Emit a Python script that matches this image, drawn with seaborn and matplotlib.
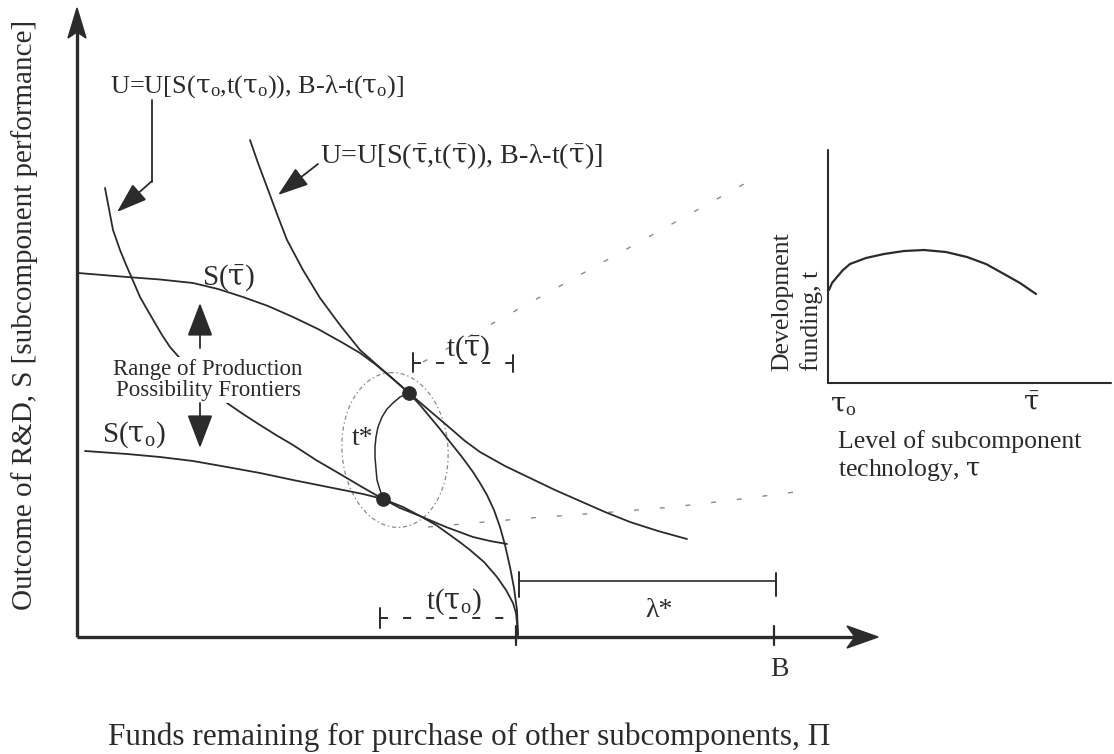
import numpy as np
import pandas as pd
import seaborn as sns
import matplotlib.pyplot as plt
from matplotlib.patches import Ellipse, FancyArrowPatch, Polygon

# ---------------------------------------------------------------
# Curves of the diagram, in canvas units (x to the right, y downward)
# ---------------------------------------------------------------
# production possibility frontier with the advanced technology, S(tau-bar)
s_bar_x = [78, 127, 160, 193, 218, 243, 268, 293, 318, 343, 360, 375, 392, 409, 420,
           430, 440, 450, 462, 473, 480, 487, 494, 500, 505, 510, 514, 517, 518]
s_bar_y = [273, 277, 279.5, 283, 289, 297, 306, 317, 329, 343, 353, 364, 378, 393, 405,
           417, 429, 442, 457, 472, 483, 495, 510, 527, 545, 567, 588, 610, 635]

# production possibility frontier with the base technology, S(tau_o)
s_o_x = [85, 127, 160, 193, 227, 260, 293, 318, 343, 363, 383, 403, 420, 436, 450,
         461, 470, 484, 497, 506, 513, 516, 517, 518]
s_o_y = [451, 454, 457, 461, 467, 473, 480, 485, 490, 494, 499, 507, 516, 525, 535,
         543, 550, 562, 577, 590, 603, 613, 623, 635]

# indifference curve tangent to S(tau-bar)
u_bar_x = [250, 258, 267, 277, 287, 303, 320, 340, 360, 377, 393, 409, 430, 450, 465,
           480, 505, 530, 555, 580, 605, 630, 658, 687]
u_bar_y = [140, 163, 187, 214, 240, 270, 298, 325, 350, 365, 379, 393, 411, 428, 441,
           452, 466, 478, 490, 501, 512, 522, 531, 539]

# indifference curve tangent to S(tau_o)
u_o_x = [105, 109, 113, 120, 127, 134, 140, 148, 155, 162, 170, 184, 198, 212, 227,
         243, 260, 276, 293, 316, 340, 362, 383, 400, 420, 446, 473, 490, 507]
u_o_y = [188, 209, 230, 250, 267, 283, 297, 311, 323, 335, 347, 363, 377, 391, 403,
         414, 425, 435, 445, 460, 474, 487, 499, 508, 516, 527, 537, 541, 544]

# locus of optimal development funding t*
t_star_x = [409, 400, 393, 387, 382, 378, 376, 375, 375, 376, 377, 380, 383]
t_star_y = [393, 397, 403, 409, 417, 427, 437, 447, 457, 469, 480, 490, 499]

# tangency points
opt_x = [409, 383]
opt_y = [393, 499]

# dashed guide lines towards the inset
guide_hi_x = [423, 753]
guide_hi_y = [362, 179]
guide_lo_x = [428, 530, 613, 673, 733, 795]
guide_lo_y = [527, 518, 512, 507, 500, 492]

# inset: development funding against technology level
inset_x = [829, 832, 837, 843, 850, 866, 884, 904, 924, 946, 967, 986, 1004, 1020, 1036]
inset_y = [290, 283, 277, 270, 264, 258, 254, 251, 250, 252, 257, 264, 274, 283, 294]

# axis geometry
origin = (77, 637)
x_axis_end = 878
y_axis_end = 8
budget_x = 774          # B
frontier_end_x = 516    # B - lambda*
inset_origin = (828, 383)
inset_top = 150
inset_right = 1111

TAU = r'\mathsf{τ}'
TAU0 = rf'${TAU}_\mathrm{{o}}$'
TAUB = rf'$\bar{{{TAU}}}$'

# ---------------------------------------------------------------
sns.set_theme(style='white')
plt.rcParams['font.family'] = ['Liberation Serif', 'DejaVu Serif']
plt.rcParams['mathtext.fontset'] = 'custom'
plt.rcParams['mathtext.rm'] = 'Liberation Serif'
plt.rcParams['mathtext.it'] = 'Liberation Serif:italic'
plt.rcParams['mathtext.bf'] = 'Liberation Serif:bold'
plt.rcParams['mathtext.sf'] = 'DejaVu Serif'
plt.rcParams['lines.scale_dashes'] = False

INK = '#2b2b2b'
GREY = '#8a8a8a'

fig = plt.figure(figsize=(11.14, 7.54), dpi=100)
ax = fig.add_axes([0, 0, 1, 1])
ax.set_xlim(0, 1114)
ax.set_ylim(754, 0)
ax.axis('off')


def curve(xs, ys, lw=1.3, color=INK, **kw):
    sns.lineplot(x=xs, y=ys, sort=False, estimator=None, ax=ax,
                 color=color, lw=lw, **kw)


def arrow(p0, p1, hl, hw, lw=1.3, z=5):
    a = FancyArrowPatch(p0, p1, arrowstyle=f'-|>,head_length={hl},head_width={hw}',
                        mutation_scale=1, color=INK, lw=lw, zorder=z,
                        shrinkA=0, shrinkB=0)
    ax.add_patch(a)


def label(x, y, s, size, **kw):
    kw.setdefault('va', 'baseline')
    kw.setdefault('ha', 'left')
    ax.text(x, y, s, fontsize=size, color=INK, **kw)


# main axes with arrow heads
ox, oy = origin
ax.plot([ox, x_axis_end - 24], [oy, oy], color=INK, lw=2.4, solid_capstyle='butt', zorder=4)
ax.plot([ox, ox], [oy, y_axis_end + 24], color=INK, lw=2.4, solid_capstyle='butt', zorder=4)
ax.add_patch(Polygon([(x_axis_end, oy), (x_axis_end - 31, oy - 11),
                      (x_axis_end - 23, oy), (x_axis_end - 31, oy + 11)],
                     closed=True, color=INK, zorder=4))
ax.add_patch(Polygon([(ox, y_axis_end), (ox - 9, y_axis_end + 30),
                      (ox, y_axis_end + 24), (ox + 9, y_axis_end + 30)],
                     closed=True, color=INK, zorder=4))
# ticks on the horizontal axis
for tx in (frontier_end_x, budget_x):
    ax.plot([tx, tx], [oy - 11, oy + 8], color=INK, lw=1.6, zorder=4)

# guide lines and the dash-dot ellipse
curve(guide_hi_x, guide_hi_y, lw=1.0, color=GREY, linestyle=(0, (3.6, 15)), zorder=1)
curve(guide_lo_x, guide_lo_y, lw=1.0, color=GREY, linestyle=(0, (3.6, 15)), zorder=1)
ax.add_patch(Ellipse((395, 450), 106, 155, angle=-4, fill=False, ec=GREY, lw=0.9,
                     linestyle=(0, (3, 2, 1, 2)), zorder=1))

# frontiers, indifference curves and t*
curve(s_bar_x, s_bar_y, zorder=2)
curve(s_o_x, s_o_y, zorder=2)
curve(u_bar_x, u_bar_y, zorder=2)
curve(u_o_x, u_o_y, zorder=2)
curve(t_star_x, t_star_y, lw=1.1, zorder=2)
sns.scatterplot(x=opt_x, y=opt_y, ax=ax, color=INK, s=95, edgecolor=INK, zorder=6)

# t(tau) brackets (dashed) and lambda* bracket
dash = (0, (5.8, 10.8))
ax.plot([413, 513], [363, 363], color=INK, lw=1.4, linestyle=dash, zorder=3)
ax.plot([413, 413], [353, 372], color=INK, lw=1.4, zorder=3)
ax.plot([513, 513], [355, 372], color=INK, lw=1.4, zorder=3)
ax.plot([380, 513], [618, 618], color=INK, lw=1.4, linestyle=dash, zorder=3)
ax.plot([380, 380], [608, 628], color=INK, lw=1.4, zorder=3)
ax.plot([519, budget_x + 2], [581, 581], color=INK, lw=1.2, zorder=3)
ax.plot([519, 519], [572, 597], color=INK, lw=1.4, zorder=3)
ax.plot([budget_x + 2, budget_x + 2], [573, 596], color=INK, lw=1.4, zorder=3)

# text
label(110, 93, rf'U=U[S({TAU0},t({TAU0})), B-λ-t({TAU0})]', 19)
label(320, 163, rf'U=U[S({TAUB},t({TAUB})), B-λ-t({TAUB})]', 20.3)
label(202, 285, rf'S({TAUB})', 21)
label(102, 442, rf'S({TAU0})', 21)
label(352, 445, 't*', 20)
label(446, 356, rf't({TAUB})', 21, zorder=4)
label(426, 609, rf't({TAU0})', 21)
label(645, 617, 'λ*', 20)
label(779, 676, 'B', 20, ha='center')
label(208, 380, 'Range of Production\nPossibility Frontiers', 16.5, va='center',
      ha='center', linespacing=1.05, zorder=3,
      bbox=dict(boxstyle='square,pad=0.05', fc='white', ec='none'))

label(469, 745, 'Funds remaining for purchase of other subcomponents, Π', 22.5, ha='center')
label(25, 315, 'Outcome of R&D, S [subcomponent performance]', 21,
      va='center', ha='center', rotation=90)

# label arrows
ax.plot([152, 152], [100, 182], color=INK, lw=1.3, zorder=5)
arrow((152, 181), (117, 212), hl=19, hw=6.5)
arrow((318, 164), (278, 195), hl=19, hw=6.5)
# range arrows
arrow((200, 348), (200, 303), hl=21, hw=8)
arrow((200, 403), (200, 448), hl=21, hw=8)

# inset plot
ix, iy = inset_origin
ax.plot([ix, ix], [iy, inset_top], color=INK, lw=1.5, zorder=4)
ax.plot([ix, inset_right], [iy, iy], color=INK, lw=1.5, zorder=4)
curve(inset_x, inset_y, lw=1.6, zorder=4)
label(830, 412, TAU0, 20)
label(1031, 411, TAUB, 20, ha='center')
label(838, 448, 'Level of subcomponent', 18.5)
label(838, 476, rf'technology, ${TAU}$', 18.5)
label(782, 371, 'Development', 18.5, va='bottom', ha='center', rotation=90)
label(812, 371, 'funding, t', 18.5, va='bottom', ha='center', rotation=90)

fig.savefig('out.png', dpi=100, facecolor='white')
